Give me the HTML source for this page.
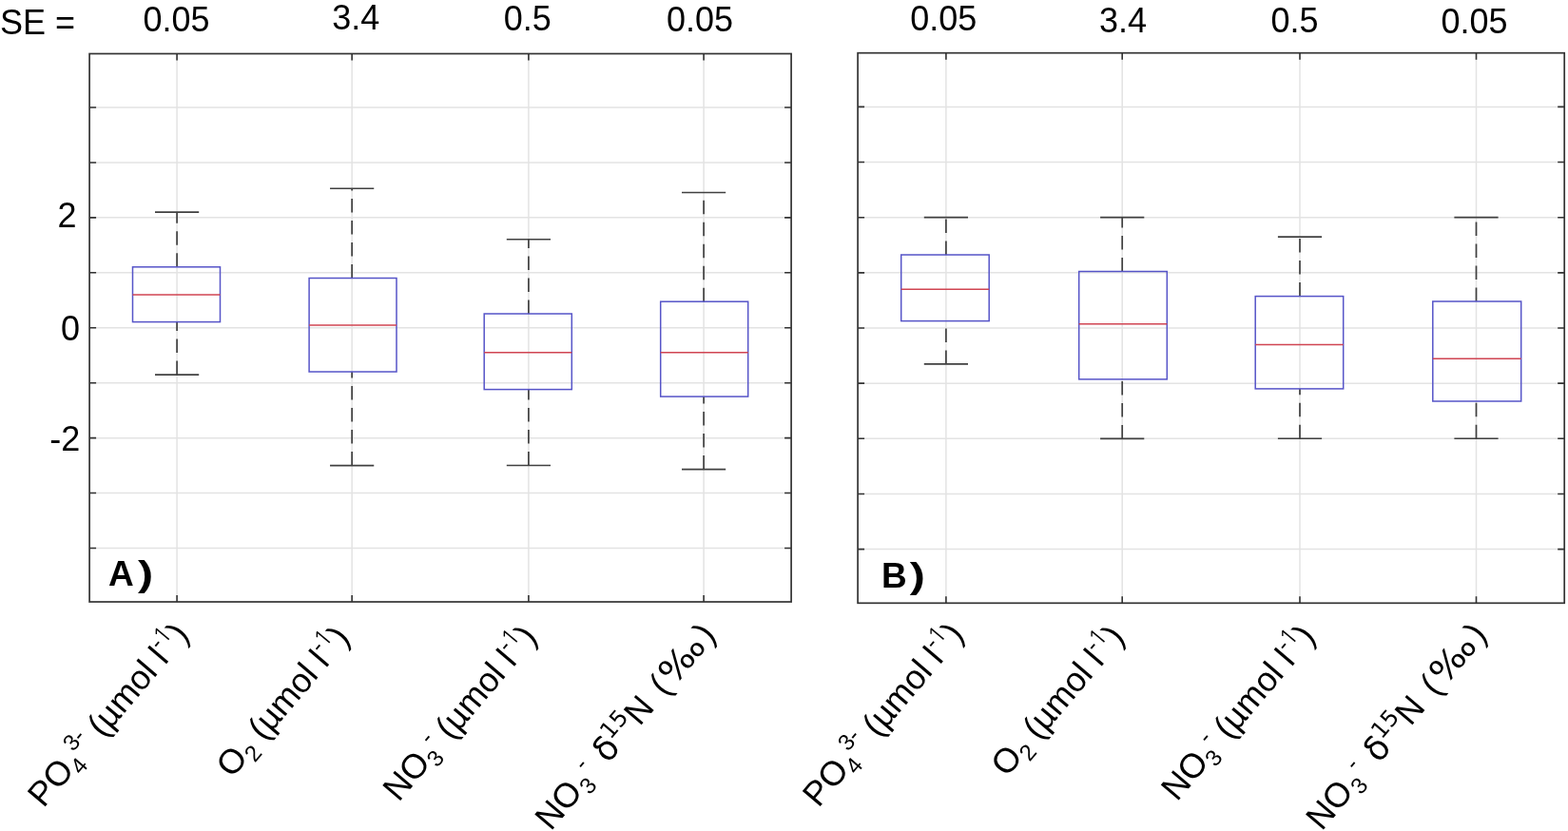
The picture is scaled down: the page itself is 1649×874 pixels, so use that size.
<!DOCTYPE html><html><head><meta charset="utf-8"><title>Boxplots</title><style>
html,body{margin:0;padding:0;background:#fff;}
body{width:1649px;height:874px;overflow:hidden;}
svg{display:block;}
text{font-family:"Liberation Sans", Arial, Helvetica, sans-serif;fill:#000;}
</style></head><body>
<svg width="1649" height="874" viewBox="0 0 1649 874">
<rect x="0" y="0" width="1649" height="874" fill="#fff"/>
<path d="M94.10 576.51H832.10M94.10 518.57H832.10M94.10 460.63H832.10M94.10 402.69H832.10M94.10 344.75H832.10M94.10 286.81H832.10M94.10 228.87H832.10M94.10 170.93H832.10M94.10 112.99H832.10M186.10 56.50V633.00M370.15 56.50V633.00M555.90 56.50V633.00M740.10 56.50V633.00" stroke="#e3e3e3" stroke-width="1.5" fill="none"/>
<path d="M186.10 280.80V223.10M186.10 394.10V338.60" stroke="#404040" stroke-width="1.7" stroke-dasharray="14.5 8.5" fill="none"/>
<path d="M163.00 223.10H209.20M163.00 394.10H209.20" stroke="#404040" stroke-width="1.6" fill="none"/>
<rect x="139.50" y="280.80" width="92.00" height="57.80" stroke="#5654c8" stroke-width="1.5" fill="none"/>
<path d="M139.50 309.90H231.50" stroke="#d04452" stroke-width="1.5" fill="none"/>
<path d="M370.15 292.50V198.25M370.15 489.60V391.00" stroke="#404040" stroke-width="1.7" stroke-dasharray="14.5 8.5" fill="none"/>
<path d="M347.05 198.25H393.25M347.05 489.60H393.25" stroke="#404040" stroke-width="1.6" fill="none"/>
<rect x="325.10" y="292.50" width="91.90" height="98.50" stroke="#5654c8" stroke-width="1.5" fill="none"/>
<path d="M325.10 341.90H417.00" stroke="#d04452" stroke-width="1.5" fill="none"/>
<path d="M555.90 330.00V251.80M555.90 489.50V409.60" stroke="#404040" stroke-width="1.7" stroke-dasharray="14.5 8.5" fill="none"/>
<path d="M532.80 251.80H579.00M532.80 489.50H579.00" stroke="#404040" stroke-width="1.6" fill="none"/>
<rect x="509.20" y="330.00" width="92.10" height="79.60" stroke="#5654c8" stroke-width="1.5" fill="none"/>
<path d="M509.20 370.80H601.30" stroke="#d04452" stroke-width="1.5" fill="none"/>
<path d="M740.10 317.20V202.50M740.10 493.60V417.10" stroke="#404040" stroke-width="1.7" stroke-dasharray="14.5 8.5" fill="none"/>
<path d="M717.00 202.50H763.20M717.00 493.60H763.20" stroke="#404040" stroke-width="1.6" fill="none"/>
<rect x="694.70" y="317.20" width="92.00" height="99.90" stroke="#5654c8" stroke-width="1.5" fill="none"/>
<path d="M694.70 370.80H786.70" stroke="#d04452" stroke-width="1.5" fill="none"/>
<path d="M94.10 576.51h7.00M832.10 576.51h-7.00M94.10 518.57h7.00M832.10 518.57h-7.00M94.10 460.63h7.00M832.10 460.63h-7.00M94.10 402.69h7.00M832.10 402.69h-7.00M94.10 344.75h7.00M832.10 344.75h-7.00M94.10 286.81h7.00M832.10 286.81h-7.00M94.10 228.87h7.00M832.10 228.87h-7.00M94.10 170.93h7.00M832.10 170.93h-7.00M94.10 112.99h7.00M832.10 112.99h-7.00M186.10 56.50v7.00M186.10 633.00v-7.00M370.15 56.50v7.00M370.15 633.00v-7.00M555.90 56.50v7.00M555.90 633.00v-7.00M740.10 56.50v7.00M740.10 633.00v-7.00" stroke="#333333" stroke-width="1.6" fill="none"/>
<rect x="94.10" y="56.50" width="738.00" height="576.50" stroke="#333333" stroke-width="1.7" fill="none"/>
<path d="M902.10 577.60H1645.20M902.10 519.45H1645.20M902.10 461.30H1645.20M902.10 403.15H1645.20M902.10 345.00H1645.20M902.10 286.85H1645.20M902.10 228.70H1645.20M902.10 170.55H1645.20M902.10 112.40H1645.20M994.90 55.70V634.30M1180.20 55.70V634.30M1367.00 55.70V634.30M1552.50 55.70V634.30" stroke="#e3e3e3" stroke-width="1.5" fill="none"/>
<path d="M994.90 268.00V228.60M994.90 382.90V337.60" stroke="#404040" stroke-width="1.7" stroke-dasharray="14.5 8.5" fill="none"/>
<path d="M971.80 228.60H1018.00M971.80 382.90H1018.00" stroke="#404040" stroke-width="1.6" fill="none"/>
<rect x="947.70" y="268.00" width="92.50" height="69.60" stroke="#5654c8" stroke-width="1.5" fill="none"/>
<path d="M947.70 304.20H1040.20" stroke="#d04452" stroke-width="1.5" fill="none"/>
<path d="M1180.20 285.50V228.60M1180.20 461.40V398.90" stroke="#404040" stroke-width="1.7" stroke-dasharray="14.5 8.5" fill="none"/>
<path d="M1157.10 228.60H1203.30M1157.10 461.40H1203.30" stroke="#404040" stroke-width="1.6" fill="none"/>
<rect x="1134.70" y="285.50" width="92.60" height="113.40" stroke="#5654c8" stroke-width="1.5" fill="none"/>
<path d="M1134.70 340.80H1227.30" stroke="#d04452" stroke-width="1.5" fill="none"/>
<path d="M1367.00 311.60V249.10M1367.00 461.30V408.90" stroke="#404040" stroke-width="1.7" stroke-dasharray="14.5 8.5" fill="none"/>
<path d="M1343.90 249.10H1390.10M1343.90 461.30H1390.10" stroke="#404040" stroke-width="1.6" fill="none"/>
<rect x="1320.20" y="311.60" width="92.50" height="97.30" stroke="#5654c8" stroke-width="1.5" fill="none"/>
<path d="M1320.20 362.50H1412.70" stroke="#d04452" stroke-width="1.5" fill="none"/>
<path d="M1552.50 317.00V228.60M1552.50 461.30V422.00" stroke="#404040" stroke-width="1.7" stroke-dasharray="14.5 8.5" fill="none"/>
<path d="M1529.40 228.60H1575.60M1529.40 461.30H1575.60" stroke="#404040" stroke-width="1.6" fill="none"/>
<rect x="1506.80" y="317.00" width="92.90" height="105.00" stroke="#5654c8" stroke-width="1.5" fill="none"/>
<path d="M1506.80 377.20H1599.70" stroke="#d04452" stroke-width="1.5" fill="none"/>
<path d="M902.10 577.60h7.00M1645.20 577.60h-7.00M902.10 519.45h7.00M1645.20 519.45h-7.00M902.10 461.30h7.00M1645.20 461.30h-7.00M902.10 403.15h7.00M1645.20 403.15h-7.00M902.10 345.00h7.00M1645.20 345.00h-7.00M902.10 286.85h7.00M1645.20 286.85h-7.00M902.10 228.70h7.00M1645.20 228.70h-7.00M902.10 170.55h7.00M1645.20 170.55h-7.00M902.10 112.40h7.00M1645.20 112.40h-7.00M994.90 55.70v7.00M994.90 634.30v-7.00M1180.20 55.70v7.00M1180.20 634.30v-7.00M1367.00 55.70v7.00M1367.00 634.30v-7.00M1552.50 55.70v7.00M1552.50 634.30v-7.00" stroke="#333333" stroke-width="1.6" fill="none"/>
<rect x="902.10" y="55.70" width="743.10" height="578.60" stroke="#333333" stroke-width="1.7" fill="none"/>
<text x="0" y="35.9" font-size="36">SE =</text>
<text x="185.5" y="33.2" font-size="36" text-anchor="middle">0.05</text>
<text x="374.2" y="30.9" font-size="36" text-anchor="middle">3.4</text>
<text x="554.8" y="31.5" font-size="36" text-anchor="middle">0.5</text>
<text x="736.0" y="33.1" font-size="36" text-anchor="middle">0.05</text>
<text x="992.2" y="32.3" font-size="36" text-anchor="middle">0.05</text>
<text x="1181.0" y="33.6" font-size="36" text-anchor="middle">3.4</text>
<text x="1361.6" y="33.7" font-size="36" text-anchor="middle">0.5</text>
<text x="1550.5" y="35.4" font-size="36" text-anchor="middle">0.05</text>
<text x="80.5" y="238.8" font-size="36" text-anchor="end">2</text>
<text x="84" y="358.2" font-size="36" text-anchor="end">0</text>
<text x="84.2" y="473.7" font-size="36" text-anchor="end">-2</text>
<text x="113.9" y="615.7" font-size="37" font-weight="bold">A</text>
<text font-size="37" font-weight="bold" transform="translate(145 615.7) scale(1.31 1)">)</text>
<text x="927" y="617.5" font-size="37" font-weight="bold">B</text>
<text font-size="37" font-weight="bold" transform="translate(956.8 617.5) scale(1.31 1)">)</text>
<text font-size="36" text-anchor="end" transform="translate(200.15 668.40) rotate(-49.70)">PO<tspan font-size="24" dy="7.5">4</tspan><tspan font-size="24" dy="-21.9">3-</tspan><tspan dy="14.4"> (µmol l</tspan><tspan font-size="24" dy="-14.4">-</tspan><tspan font-size="24" dx="-0.6" style="font-family:NanumGothic,sans-serif">1</tspan><tspan dx="-0.6" dy="14.4">)</tspan></text>
<text font-size="36" text-anchor="end" transform="translate(369.25 671.60) rotate(-49.70)">O<tspan font-size="24" dy="7.5">2</tspan><tspan dy="-7.5"> (µmol l</tspan><tspan font-size="24" dy="-14.4">-</tspan><tspan font-size="24" dx="-0.6" style="font-family:NanumGothic,sans-serif">1</tspan><tspan dx="-0.6" dy="14.4">)</tspan></text>
<text font-size="36" text-anchor="end" transform="translate(566.25 670.90) rotate(-49.70)">NO<tspan font-size="24" dy="7.5">3</tspan><tspan font-size="24" dy="-21.9">-</tspan><tspan dy="14.4"> (µmol l</tspan><tspan font-size="24" dy="-14.4">-</tspan><tspan font-size="24" dx="-0.6" style="font-family:NanumGothic,sans-serif">1</tspan><tspan dx="-0.6" dy="14.4">)</tspan></text>
<text font-size="36" transform="translate(754.10 668.60) rotate(-49.70)"><tspan x="-270.4" y="0">NO</tspan><tspan x="-214.8" y="6.8" font-size="24">3</tspan><tspan x="-199.3" y="-14.4" font-size="24">- </tspan><tspan x="-177.1" y="0" style="font-family:'DejaVu Sans',sans-serif">δ</tspan><tspan x="-156.2" y="-14.4" font-size="24" style="font-family:'DejaVu Sans',sans-serif">15</tspan><tspan x="-125.8" y="0">N </tspan><tspan x="-84.9" y="0">(</tspan><tspan x="-69.86" y="0" style="font-family:'DejaVu Sans',sans-serif" textLength="54.44" lengthAdjust="spacingAndGlyphs">‰</tspan><tspan x="-12" y="0">)</tspan></text>
<text font-size="36" text-anchor="end" transform="translate(1015.10 668.10) rotate(-49.70)">PO<tspan font-size="24" dy="7.5">4</tspan><tspan font-size="24" dy="-21.9">3-</tspan><tspan dy="14.4"> (µmol l</tspan><tspan font-size="24" dy="-14.4">-</tspan><tspan font-size="24" dx="-0.6" style="font-family:NanumGothic,sans-serif">1</tspan><tspan dx="-0.6" dy="14.4">)</tspan></text>
<text font-size="36" text-anchor="end" transform="translate(1183.95 670.80) rotate(-49.70)">O<tspan font-size="24" dy="7.5">2</tspan><tspan dy="-7.5"> (µmol l</tspan><tspan font-size="24" dy="-14.4">-</tspan><tspan font-size="24" dx="-0.6" style="font-family:NanumGothic,sans-serif">1</tspan><tspan dx="-0.6" dy="14.4">)</tspan></text>
<text font-size="36" text-anchor="end" transform="translate(1384.75 670.40) rotate(-49.70)">NO<tspan font-size="24" dy="7.5">3</tspan><tspan font-size="24" dy="-21.9">-</tspan><tspan dy="14.4"> (µmol l</tspan><tspan font-size="24" dy="-14.4">-</tspan><tspan font-size="24" dx="-0.6" style="font-family:NanumGothic,sans-serif">1</tspan><tspan dx="-0.6" dy="14.4">)</tspan></text>
<text font-size="36" transform="translate(1564.90 668.45) rotate(-49.70)"><tspan x="-270.4" y="0">NO</tspan><tspan x="-214.8" y="6.8" font-size="24">3</tspan><tspan x="-199.3" y="-14.4" font-size="24">- </tspan><tspan x="-177.1" y="0" style="font-family:'DejaVu Sans',sans-serif">δ</tspan><tspan x="-156.2" y="-14.4" font-size="24" style="font-family:'DejaVu Sans',sans-serif">15</tspan><tspan x="-125.8" y="0">N </tspan><tspan x="-84.9" y="0">(</tspan><tspan x="-69.86" y="0" style="font-family:'DejaVu Sans',sans-serif" textLength="54.44" lengthAdjust="spacingAndGlyphs">‰</tspan><tspan x="-12" y="0">)</tspan></text>
</svg></body></html>
